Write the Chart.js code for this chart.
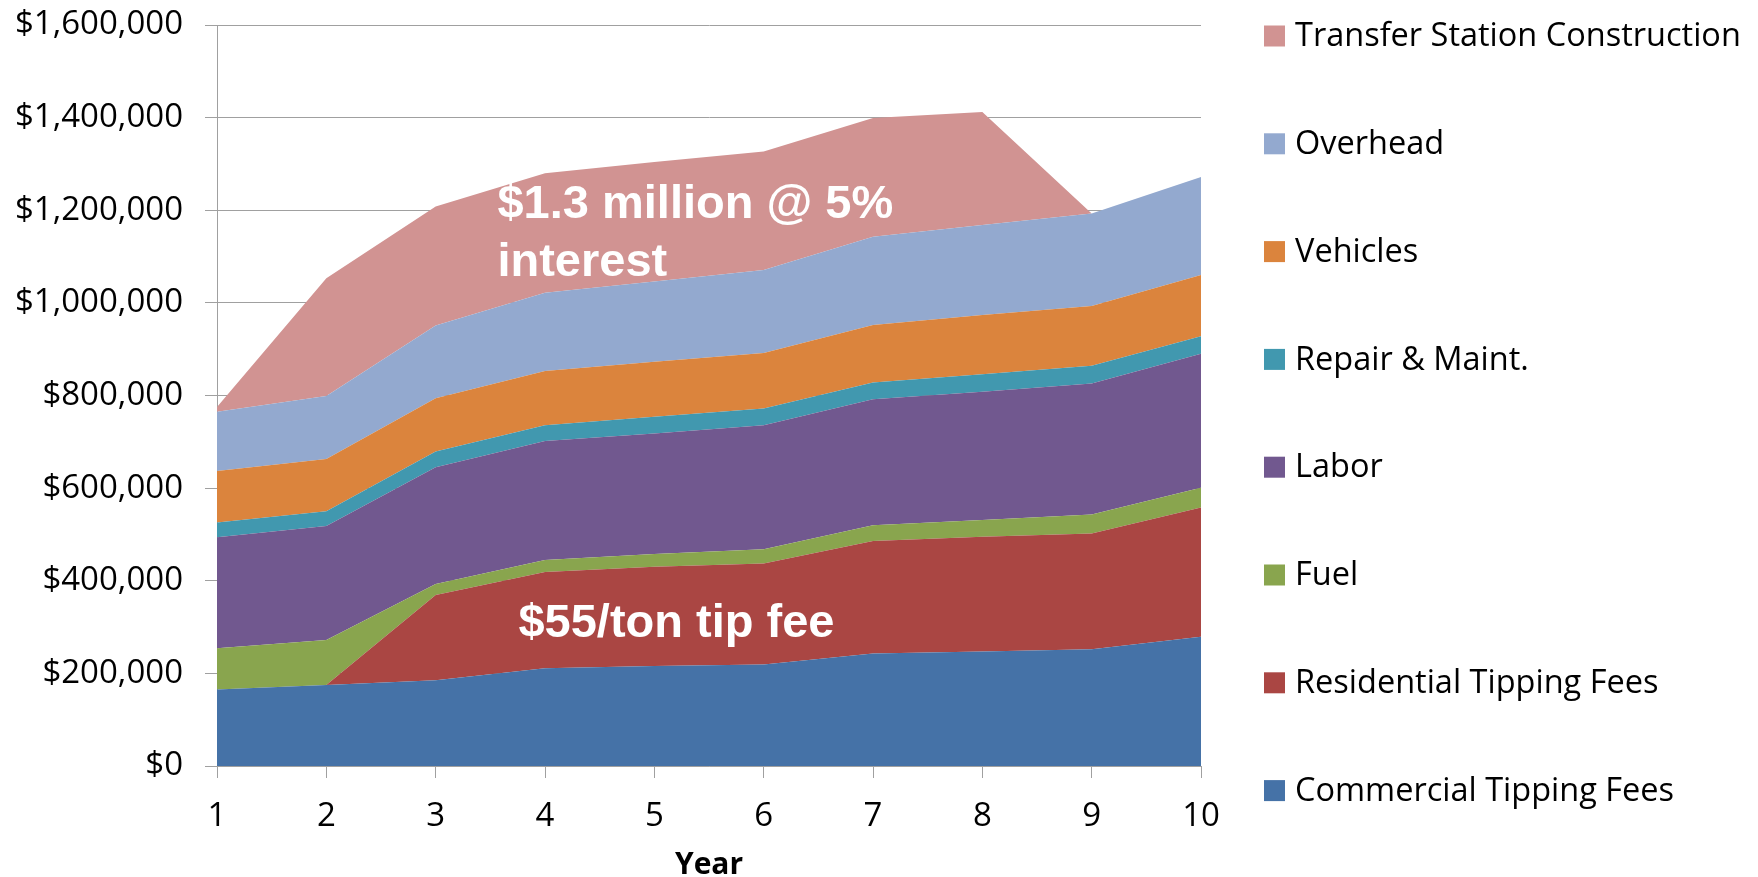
<!DOCTYPE html>
<html lang="en">
<head>
<meta charset="UTF-8">
<title>Transfer Station Costs</title>
<script src="https://cdn.jsdelivr.net/npm/chart.js"></script>
<style>
    body {
        margin: 0;
        background: #ffffff;
    }
    .chart {
        width: 1758px;
        height: 877px;
    }
</style>
</head>
<body>
<div class="chart">
    <canvas id="costChart"></canvas>
</div>
<script>
// years on the x axis
const years = ['1', '2', '3', '4', '5', '6', '7', '8', '9', '10'];

// stacked series, bottom to top (dollars)
const commercialTipping = [165000, 175000, 185000, 211000, 216000, 219000, 243000, 247000, 252000, 279000];
const residentialTipping = [0, 0, 184000, 208000, 214000, 218000, 243000, 248000, 250000, 279000];
const fuel = [89000, 97000, 24000, 26000, 28000, 31000, 34000, 36000, 41000, 43000];
const labor = [240000, 246000, 252000, 257000, 260000, 268000, 272000, 277000, 283000, 289000];
const repairMaint = [32000, 32000, 34000, 34000, 36000, 36000, 36000, 38000, 38000, 38000];
const vehicles = [111000, 113000, 115000, 117000, 119000, 120000, 124000, 128000, 129000, 132000];
const overhead = [128000, 136000, 157000, 169000, 173000, 179000, 191000, 194000, 200000, 212000];
const transferStation = [10000, 254000, 257000, 258000, 258000, 256000, 256000, 244000, 0, 0];

const seriesNames = ['Commercial Tipping Fees', 'Residential Tipping Fees', 'Fuel', 'Labor',
    'Repair & Maint.', 'Vehicles', 'Overhead', 'Transfer Station Construction'];
const seriesColors = ['#4572a7', '#aa4643', '#89a54e', '#71588f', '#4198af', '#db843d', '#93a9cf', '#d19392'];
const seriesValues = [commercialTipping, residentialTipping, fuel, labor, repairMaint, vehicles, overhead, transferStation];

// y axis ticks
const yMin = 0;
const yMax = 1600000;
const yStep = 200000;

// text written on the areas: [text, x index, y value]
const notes = [
    ['$1.3 million @ 5%', 2.565, 1183000],
    ['interest', 2.565, 1058000],
    ['$55/ton tip fee', 2.757, 278000]
];

const axisFont = { family: "'Open Sans', sans-serif", size: 33 };
const gridGray = '#a0a0a0';

const datasets = seriesValues.map((values, i) => ({
    label: seriesNames[i],
    data: values,
    backgroundColor: seriesColors[i],
    borderColor: seriesColors[i],
    borderWidth: 0,
    pointRadius: 0,
    tension: 0,
    fill: i === 0 ? 'origin' : '-1'
}));

// white notes on top of the areas
const notesPlugin = {
    id: 'notes',
    afterDatasetsDraw(chart) {
        const ctx = chart.ctx;
        const x = chart.scales.x;
        const y = chart.scales.y;
        ctx.save();
        ctx.fillStyle = '#ffffff';
        ctx.font = "bold 47px 'Liberation Sans', Arial, sans-serif";
        ctx.textAlign = 'left';
        ctx.textBaseline = 'alphabetic';
        notes.forEach(n => {
            ctx.fillText(n[0], x.getPixelForValue(n[1]), y.getPixelForValue(n[2]));
        });
        ctx.restore();
    }
};

// legend on the right, top series first
const sideLegend = {
    id: 'sideLegend',
    afterDraw(chart) {
        const ctx = chart.ctx;
        const area = chart.chartArea;
        const boxLeft = area.right + 63;
        const box = 21;
        const gap = 107.8;
        ctx.save();
        ctx.font = "32.5px 'Open Sans', sans-serif";
        ctx.textBaseline = 'middle';
        ctx.textAlign = 'left';
        const items = chart.data.datasets.slice().reverse();
        items.forEach((ds, i) => {
            const cy = area.top + 11 + i * gap;
            ctx.fillStyle = ds.backgroundColor;
            ctx.fillRect(boxLeft, cy - box / 2, box, box);
            ctx.fillStyle = '#000000';
            ctx.fillText(ds.label, boxLeft + 31, cy + 1);
        });
        ctx.restore();
    }
};

const ctx = document.getElementById('costChart').getContext('2d');
const costChart = new Chart(ctx, {
    type: 'line',
    data: {
        labels: years,
        datasets: datasets
    },
    options: {
        responsive: true,
        maintainAspectRatio: false,
        animation: false,
        layout: {
            padding: { top: 25, right: 557, bottom: 0, left: 0 }
        },
        plugins: {
            legend: { display: false },
            tooltip: { enabled: false }
        },
        scales: {
            x: {
                offset: false,
                afterFit(scale) { scale.height = 111; },
                grid: {
                    drawOnChartArea: false,
                    drawTicks: true,
                    tickLength: 12,
                    color: gridGray
                },
                border: { color: gridGray },
                ticks: {
                    color: '#000000',
                    font: axisFont,
                    padding: 19,
                    maxRotation: 0
                },
                title: {
                    display: true,
                    text: 'Year',
                    color: '#000000',
                    font: { family: "'Open Sans', sans-serif", size: 30, weight: 'bold' },
                    padding: { top: 0, bottom: -6 }
                }
            },
            y: {
                stacked: true,
                min: yMin,
                max: yMax,
                afterFit(scale) {
                    scale.width = 217;
                    scale.paddingTop = 0;
                    scale.paddingBottom = 0;
                },
                grid: {
                    color: gridGray,
                    tickLength: 12
                },
                border: { color: gridGray },
                ticks: {
                    stepSize: yStep,
                    color: '#000000',
                    font: axisFont,
                    padding: 22,
                    callback: value => '$' + value.toLocaleString('en-US')
                }
            }
        }
    },
    plugins: [notesPlugin, sideLegend]
});
</script>
</body>
</html>
